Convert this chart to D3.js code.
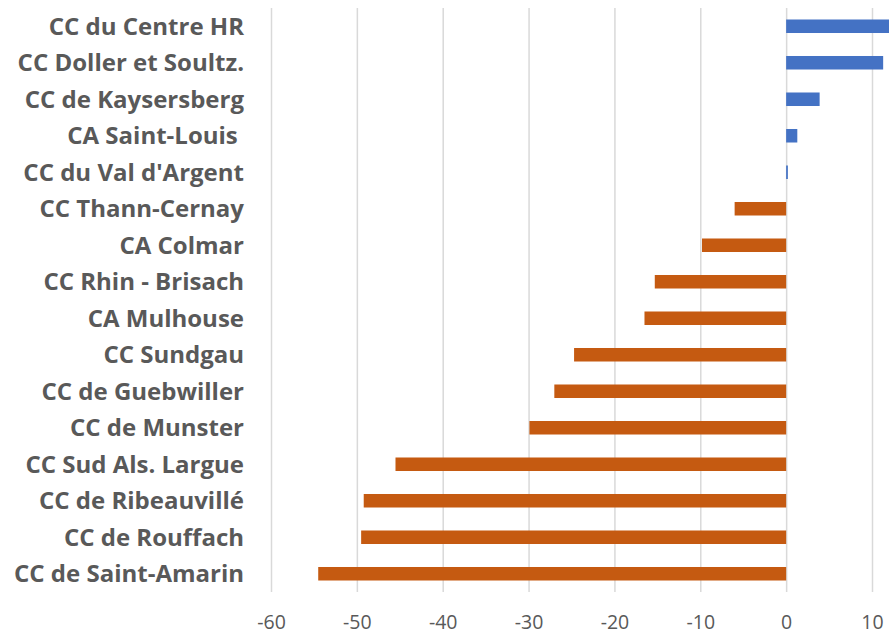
<!DOCTYPE html>
<html>
<head>
<meta charset="utf-8">
<script src="https://d3js.org/d3.v7.min.js"></script>
<style>
  body { margin:0; background:#fff; }
  svg { display:block; }
</style>
</head>
<body>
<script>
// territories, top to bottom
var names = ["CC du Centre HR", "CC Doller et Soultz.", "CC de Kaysersberg", "CA Saint-Louis ",
  "CC du Val d'Argent", "CC Thann-Cernay", "CA Colmar", "CC Rhin - Brisach", "CA Mulhouse",
  "CC Sundgau", "CC de Guebwiller", "CC de Munster", "CC Sud Als. Largue", "CC de Ribeauvillé",
  "CC de Rouffach", "CC de Saint-Amarin"];
var values = [13.5, 11.3, 3.9, 1.3, 0.2, -6.0, -9.8, -15.3, -16.5, -24.7, -27.0, -29.9, -45.5, -49.2, -49.5, -54.5];
var ticks = [-60, -50, -40, -30, -20, -10, 0, 10];

var width = 889, height = 636;
var svg = d3.select("body").append("svg")
  .attr("width", width).attr("height", height);

var x = d3.scaleLinear().domain([-60, 10]).range([271, 872]);
var y = d3.scaleBand().domain(names).range([8, 592]).paddingInner(0.63).paddingOuter(0.315);

// gridlines
svg.append("g")
  .attr("transform", "translate(0,592)")
  .call(d3.axisBottom(x).tickValues(ticks).tickSize(-584).tickFormat(""))
  .call(g => g.select(".domain").remove())
  .call(g => g.selectAll("line").attr("stroke", "#d9d9d9").attr("stroke-width", 1.5));

// bars
svg.append("g").selectAll("rect")
  .data(values)
  .join("rect")
  .attr("x", d => x(Math.min(0, d)))
  .attr("y", (d, i) => y(names[i]))
  .attr("width", d => Math.abs(x(d) - x(0)))
  .attr("height", y.bandwidth())
  .attr("fill", d => d >= 0 ? "#4472c4" : "#c55a11");

// x tick labels (plain hyphen like the original)
svg.append("g")
  .attr("transform", "translate(0,592)")
  .call(d3.axisBottom(x).tickValues(ticks).tickSize(0).tickPadding(23).tickFormat(d => String(d)))
  .call(g => g.select(".domain").remove())
  .call(g => g.selectAll("text")
    .attr("fill", "#595959")
    .style("font-family", "'Open Sans', sans-serif")
    .style("font-size", "19.5px"));

// category labels (white-space pre keeps the trailing space of "CA Saint-Louis ")
svg.append("g").selectAll("text")
  .data(names)
  .join("text")
  .attr("x", 244)
  .attr("y", d => y(d) + y.bandwidth() / 2)
  .attr("dy", "0.35em")
  .attr("text-anchor", "end")
  .attr("fill", "#595959")
  .style("white-space", "pre")
  .style("font-family", "'Open Sans', sans-serif")
  .style("font-weight", "bold")
  .style("font-size", "24px")
  .text(d => d);
</script>
</body>
</html>
